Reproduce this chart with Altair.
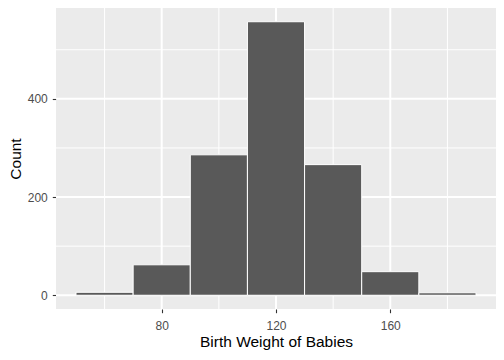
import altair as alt
import pandas as pd

# Data
bin_start = [50, 70, 90, 110, 130, 150, 170]
bin_end = [70, 90, 110, 130, 150, 170, 190]
counts = [6, 62, 286, 557, 266, 48, 5]

x_major = [80, 120, 160]
x_minor = [60, 100, 140, 180]
y_major = [0, 200, 400]
y_minor = [100, 300, 500]

W, H = 440, 301
xdom = [43, 197]
ydom = [-28, 585]

bars_df = pd.DataFrame({"start": bin_start, "end": bin_end, "count": counts})

xs = alt.Scale(domain=xdom, nice=False, zero=False)
ys = alt.Scale(domain=ydom, nice=False, zero=False)

base_axis = dict(
    domain=False, grid=False, tickSize=3.7, tickColor="#333333", tickWidth=1.1,
    labelColor="#4D4D4D", labelFontSize=12, labelFont="Liberation Sans",
    titleFont="Liberation Sans", titleFontSize=15.5, titleColor="#000000",
    titleFontWeight="normal",
)
xaxis = alt.Axis(values=x_major, title="Birth Weight of Babies", labelPadding=8,
                 titlePadding=2.5, **base_axis)
yaxis = alt.Axis(values=y_major, title="Count", labelPadding=5, titlePadding=3.5, **base_axis)

xminor = alt.Chart(pd.DataFrame({"v": x_minor})).mark_rule(color="white", strokeWidth=1).encode(
    x=alt.X("v:Q", scale=xs, axis=xaxis), y=alt.value(0), y2=alt.value(H))
yminor = alt.Chart(pd.DataFrame({"v": y_minor})).mark_rule(color="white", strokeWidth=1).encode(
    y=alt.Y("v:Q", scale=ys, axis=yaxis), x=alt.value(0), x2=alt.value(W))
xmajor = alt.Chart(pd.DataFrame({"v": x_major})).mark_rule(color="white", strokeWidth=2).encode(
    x=alt.X("v:Q", scale=xs, axis=xaxis), y=alt.value(0), y2=alt.value(H))
ymajor = alt.Chart(pd.DataFrame({"v": y_major})).mark_rule(color="white", strokeWidth=2).encode(
    y=alt.Y("v:Q", scale=ys, axis=yaxis), x=alt.value(0), x2=alt.value(W))

bars = alt.Chart(bars_df).mark_rect(color="#595959", stroke="white", strokeWidth=1).encode(
    x=alt.X("start:Q", scale=xs, axis=xaxis),
    x2="end:Q",
    y=alt.Y("count:Q", scale=ys, axis=yaxis),
    y2=alt.datum(0),
)

chart = alt.layer(xminor, yminor, xmajor, ymajor, bars).properties(
    width=W, height=H,
    autosize=alt.AutoSizeParams(type="none"),
    padding={"left": 48, "top": 0, "right": 0, "bottom": 41},
    background="white",
).configure_view(fill="#EBEBEB", strokeWidth=0)

chart.save("out.html", embed_options={"renderer": "svg", "actions": False})
